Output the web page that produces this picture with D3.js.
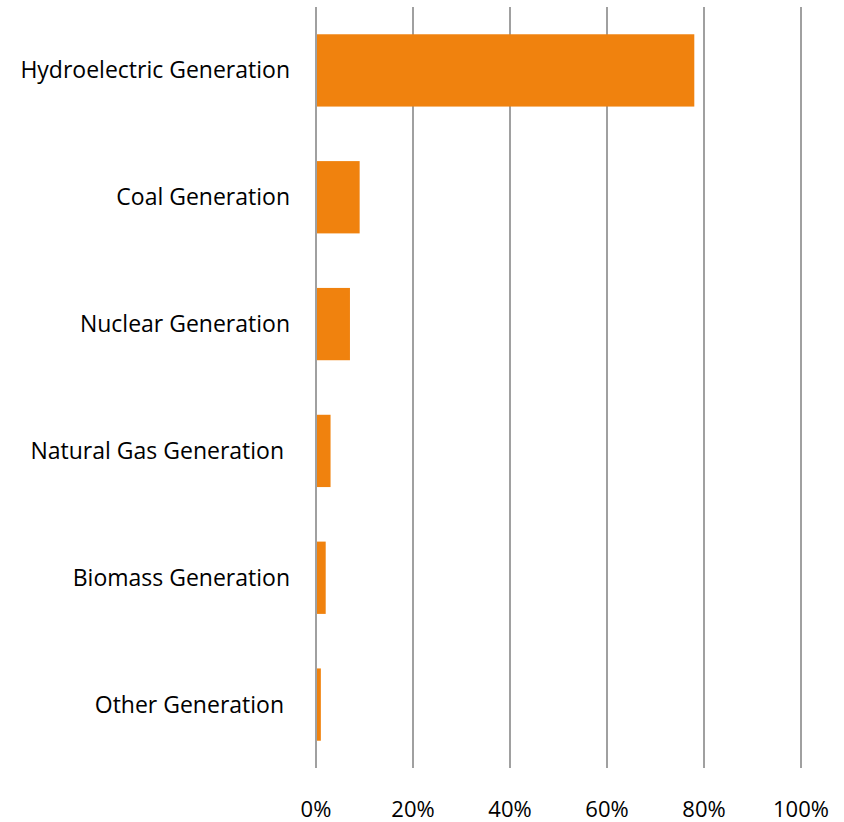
<!DOCTYPE html>
<html><head><meta charset="utf-8">
<script src="https://cdn.jsdelivr.net/npm/d3@7"></script>
<style>body{margin:0;background:#fff}text{font-family:"Open Sans",sans-serif}</style>
</head><body>
<svg id="c" width="844" height="822"></svg>
<script>
const categories = ["Hydroelectric Generation","Coal Generation","Nuclear Generation","Natural Gas Generation ","Biomass Generation","Other Generation "];
const values = [0.78, 0.09, 0.07, 0.03, 0.02, 0.01];
const ticks = [0, 0.2, 0.4, 0.6, 0.8, 1.0];

const svg = d3.select("#c");
const x = d3.scaleLinear().domain([0,1]).range([316,801]);
const y = d3.scaleBand().domain(categories).range([7,768]).paddingInner(0.43).paddingOuter(0.215);

svg.append("g").selectAll("line").data(ticks).join("line")
  .attr("x1",d=>x(d)).attr("x2",d=>x(d)).attr("y1",7).attr("y2",768)
  .attr("stroke","#a0a0a0").attr("stroke-width",2);

svg.append("g").selectAll("rect").data(values).join("rect")
  .attr("x",x(0)+1).attr("y",(d,i)=>y(categories[i]))
  .attr("width",d=>x(d)-x(0)-1).attr("height",y.bandwidth())
  .attr("fill","#f0820e");

svg.append("g").selectAll("text").data(categories).join("text")
  .attr("x",290).attr("y",d=>y(d)+y.bandwidth()/2).attr("dy","0.35em")
  .attr("text-anchor","end").attr("font-size",23).attr("fill","#000")
  .style("white-space","pre").text(d=>d);

svg.append("g").selectAll("text").data(ticks).join("text")
  .attr("x",d=>x(d)).attr("y",817)
  .attr("text-anchor","middle").attr("font-size",22).attr("fill","#000")
  .text(d3.format(".0%"));
</script>
</body></html>
